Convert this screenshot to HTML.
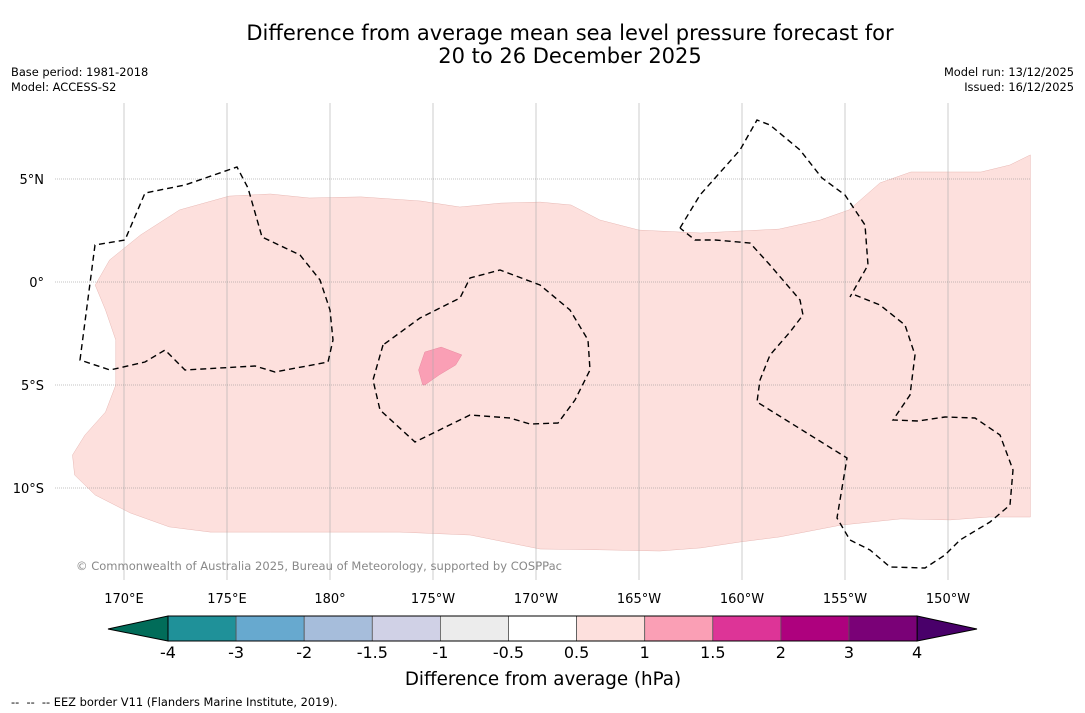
<!DOCTYPE html>
<html><head><meta charset="utf-8"><style>
body{margin:0;background:#fff;font-family:"DejaVu Sans","Liberation Sans",sans-serif;}
#wrap{position:relative;width:1085px;height:713px;overflow:hidden;background:#fff}
.t{position:absolute;white-space:nowrap;color:#000}
</style></head><body>
<div id="wrap">
<div class="t" style="left:0;width:1140px;text-align:center;top:22px;font-size:21px;line-height:23px">Difference from average mean sea level pressure forecast for<br>20 to 26 December 2025</div>
<div class="t" style="left:11px;top:65px;font-size:11.4px;line-height:15px">Base period: 1981-2018<br>Model: ACCESS-S2</div>
<div class="t" style="right:11px;top:65px;font-size:11.4px;line-height:15px;text-align:right">Model run: 13/12/2025<br>Issued: 16/12/2025</div>
<svg id="svg" width="1085" height="713" style="position:absolute;left:0;top:0"></svg>
<div class="t" style="left:11px;top:695px;font-size:11.4px">-- &nbsp;-- &nbsp;-- EEZ border V11 (Flanders Marine Institute, 2019).</div>
</div>
<script>
const lonTicks=[170,175,180,185,190,195,200,205,210];
const lonLabels=["170°E","175°E","180°","175°W","170°W","165°W","160°W","155°W","150°W"];
const latTicks=[5,0,-5,-10];
const latLabels=["5°N","0°","5°S","10°S"];
const anomLon=[168.6,169.3,170.8,172.7,175.1,177.1,179.0,181.5,184.4,186.3,188.3,190.2,191.7,193.1,195.0,198.0,201.8,203.8,205.2,206.7,208.2,210.1,211.6,213.0,214.0,214.0,212.0,210.1,207.7,204.8,201.8,199.9,198.0,196.0,193.1,190.2,186.8,183.4,180.0,177.1,174.2,172.2,170.3,168.6,167.6,167.5,168.1,169.1,169.6,169.6,169.1];
const anomLat=[-0.15,1.07,2.28,3.5,4.17,4.27,4.08,4.13,3.93,3.64,3.83,3.88,3.74,3.01,2.52,2.38,2.57,3.01,3.5,4.81,5.34,5.34,5.34,5.68,6.17,-11.41,-11.41,-11.55,-11.5,-11.8,-12.38,-12.62,-12.91,-13.06,-13.0,-12.96,-12.28,-12.14,-12.14,-12.14,-12.14,-11.89,-11.21,-10.34,-9.37,-8.4,-7.43,-6.31,-5.0,-2.82,-1.36];
const blobLon=[184.5,184.3,184.6,185.4,186.4,186.1,185.3,184.6];
const blobLat=[-5.0,-4.27,-3.4,-3.16,-3.54,-4.03,-4.51,-5.0];
const cbBounds=["-4","-3","-2","-1.5","-1","-0.5","0.5","1","1.5","2","3","4"];
const cbColors=["#1f9199","#67a9cf","#a6bddb","#d0d1e6","#ececec","#ffffff","#fde0dd","#fa9fb5","#dd3497","#ae017e","#7a0177"];
const X=lon=>124+(lon-170)*20.6, Y=lat=>282-lat*20.6;
const svg=document.getElementById('svg');const NS='http://www.w3.org/2000/svg';
function mk(t,a,p){const e=document.createElementNS(NS,t);for(const k in a)e.setAttribute(k,a[k]);(p||svg).appendChild(e);return e;}
function poly(lo,la){return lo.map((v,i)=>X(v).toFixed(1)+','+Y(la[i]).toFixed(1)).join(' ');}
let e=mk('polygon',{points:poly(anomLon,anomLat),fill:'#fde0dd',stroke:'#e8b8b4','stroke-width':0.5});

e=mk('polygon',{points:poly(blobLon,blobLat),fill:'#fa9fb5',stroke:'#e88aa0','stroke-width':0.5});

lonTicks.forEach((l,i)=>{const g=mk('line',{x1:X(l),x2:X(l),y1:103,y2:580,stroke:'#aaa','stroke-width':0.6});

const t=mk('text',{x:X(l),y:603,'font-size':13,'text-anchor':'middle','font-family':'DejaVu Sans,sans-serif'});t.textContent=lonLabels[i];
});
latTicks.forEach((l,i)=>{const g=mk('line',{x1:55,x2:1030,y1:Y(l),y2:Y(l),stroke:'#888','stroke-width':0.6,'stroke-dasharray':'1,1'});

const t=mk('text',{x:44,y:Y(l)+5,'font-size':13,'text-anchor':'end','font-family':'DejaVu Sans,sans-serif'});t.textContent=latLabels[i];
});
const eez=[
"M80,360 L95,245 L125,240 L145,193 L185,185 L237,167 L248,188 L262,237 L300,255 L320,280 L330,310 L333,340 L328,362 L275,372 L255,366 L185,370 L165,350 L145,362 L110,370 Z",
"M383,345 L373,380 L380,410 L415,442 L470,415 L510,418 L530,424 L558,423 L575,400 L590,370 L588,340 L570,310 L540,285 L500,270 L470,278 L460,298 L420,318 Z",
"M680,228 L700,195 L740,150 L757,120 L770,125 L800,150 L822,178 L845,195 L865,225 L868,265 L850,297 M855,295 L880,305 L905,325 L915,355 L910,395 L893,420 L918,421 L945,417 L975,418 L1000,435 L1013,470 L1010,505 L990,522 L960,540 L945,555 L925,568 L890,567 L870,550 L850,540 L837,518 L847,458 L757,402 L760,380 L770,355 L790,332 L803,315 L800,300 L770,265 L750,243 L715,240 L695,240 L680,228"];
eez.forEach(d=>{const p=mk('path',{d:d,fill:'none',stroke:'#000','stroke-width':1.4,'stroke-dasharray':'6,4'});
});
e=mk('text',{x:76,y:570,'font-size':11.5,fill:'#888','font-family':'DejaVu Sans,sans-serif',textLength:486});e.textContent='© Commonwealth of Australia 2025, Bureau of Meteorology, supported by COSPPac';

// colorbar
const cx0=168,cw=68.1,cy=616,ch=25;
e=mk('polygon',{points:`108,629 ${cx0},${cy} ${cx0},${cy+ch}`,fill:'#016c59',stroke:'#000','stroke-width':1});

const ex=cx0+cw*cbColors.length;
e=mk('polygon',{points:`${ex},${cy} 977,629 ${ex},${cy+ch}`,fill:'#49006a',stroke:'#000','stroke-width':1});

cbColors.forEach((c,i)=>{const r=mk('rect',{x:cx0+i*cw,y:cy,width:cw,height:ch,fill:c,stroke:'#555','stroke-width':0.8});
});
mk('rect',{x:cx0,y:cy,width:cw*cbColors.length,height:ch,fill:'none',stroke:'#000','stroke-width':1});
cbBounds.forEach((b,i)=>{const t=mk('text',{x:cx0+i*cw,y:658,'font-size':16,'text-anchor':'middle','font-family':'DejaVu Sans,sans-serif'});t.textContent=b;
});
e=mk('text',{x:543,y:685,'font-size':18.3,'text-anchor':'middle','font-family':'DejaVu Sans,sans-serif'});e.textContent='Difference from average (hPa)';

</script>
</body></html>
